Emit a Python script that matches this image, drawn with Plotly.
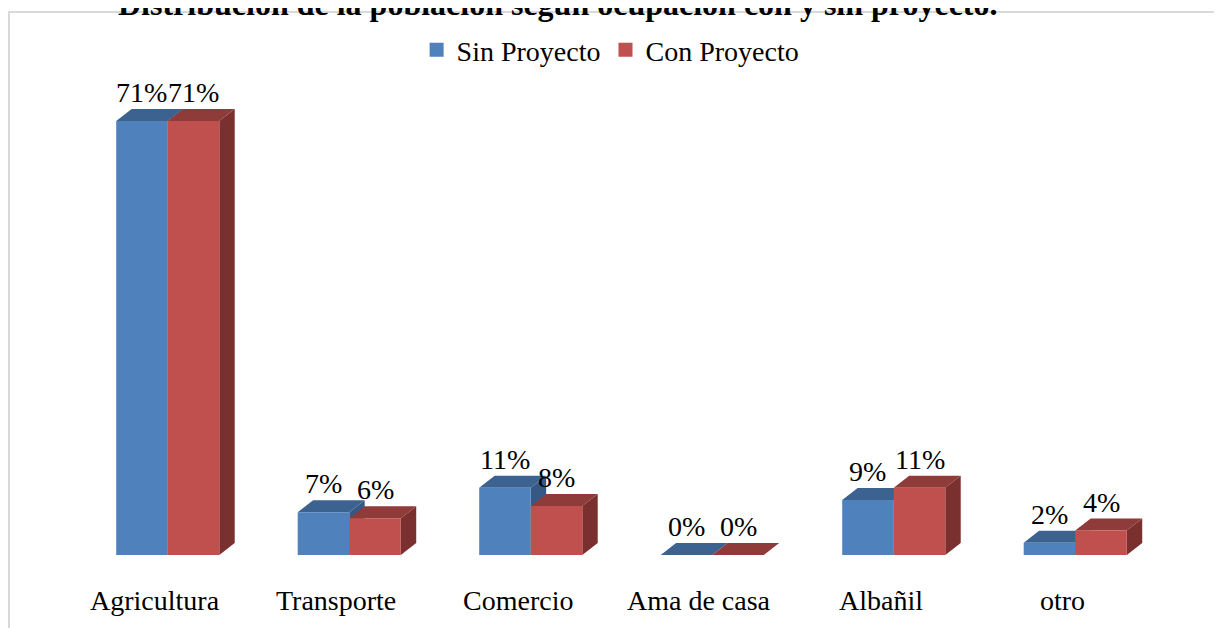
import plotly.graph_objects as go

categorias = ["Agricultura", "Transporte", "Comercio", "Ama de casa", "Albañil", "otro"]
sin_proyecto = [71, 7, 11, 0, 9, 2]
con_proyecto = [71, 6, 8, 0, 11, 4]
series = ["Sin Proyecto", "Con Proyecto"]

# look of the fake 3d bars
W = 0.284      # width of one bar (x units)
DX = 0.085     # depth offset to the right
DY = 1.96      # depth offset upward (y units)
FONT = "Liberation Serif"

colores = {
    "Sin Proyecto": dict(front="#4F81BD", top="#3C6390", side="#355884"),
    "Con Proyecto": dict(front="#C0504D", top="#8E3B39", side="#7A302E"),
}

fig = go.Figure()


def caras(valores, offset):
    front_x, front_y, top_x, top_y, side_x, side_y = [], [], [], [], [], []
    for i, v in enumerate(valores):
        x0 = i + offset
        x1 = x0 + W
        front_x += [x0, x1, x1, x0, x0, None]
        front_y += [0, 0, v, v, 0, None]
        top_x += [x0, x1, x1 + DX, x0 + DX, x0, None]
        top_y += [v, v, v + DY, v + DY, v, None]
        side_x += [x1, x1 + DX, x1 + DX, x1, x1, None]
        side_y += [0, DY, v + DY, v, 0, None]
    return (front_x, front_y), (top_x, top_y), (side_x, side_y)


for nombre, valores, offset in [(series[0], sin_proyecto, -W), (series[1], con_proyecto, 0)]:
    c = colores[nombre]
    front, top, side = caras(valores, offset)
    fig.add_trace(go.Scatter(x=side[0], y=side[1], fill="toself", fillcolor=c["side"],
                             mode="lines", line=dict(width=0), hoverinfo="skip",
                             showlegend=False))
    fig.add_trace(go.Scatter(x=top[0], y=top[1], fill="toself", fillcolor=c["top"],
                             mode="lines", line=dict(width=0), hoverinfo="skip",
                             showlegend=False))
    fig.add_trace(go.Scatter(x=front[0], y=front[1], fill="toself", fillcolor=c["front"],
                             mode="lines", line=dict(width=0), hoverinfo="skip",
                             showlegend=False))

# legend entries only (square icons)
for nombre in series:
    fig.add_trace(go.Scatter(x=[None], y=[None], mode="markers", name=nombre,
                             marker=dict(symbol="square", size=14,
                                         color=colores[nombre]["front"])))

# etiquetas de valores
for valores, offset in [(sin_proyecto, -W), (con_proyecto, 0)]:
    for i, v in enumerate(valores):
        fig.add_annotation(x=i + offset + W / 2, y=v + DY, text=f"{v}%",
                           showarrow=False, yanchor="bottom", yshift=-1,
                           font=dict(family=FONT, size=28, color="black"))

for i, cat in enumerate(categorias):
    fig.add_annotation(x=i - 0.072, y=0, yref="y", text=cat, showarrow=False,
                       yshift=-45, yanchor="middle",
                       font=dict(family=FONT, size=28, color="black"))

# titulo (cortado arriba como en la imagen original)
fig.add_annotation(xref="paper", yref="paper", x=(550 - 69) / 1089, y=1 + 76 / 475,
                   yanchor="middle", xanchor="center", showarrow=False,
                   text="<b>Distribución de la población según ocupación con y sin proyecto.</b>",
                   font=dict(family=FONT, size=32, color="black"))

# recuadro del grafico
fig.add_shape(type="rect", xref="paper", yref="paper",
              x0=(1 - 69) / 1089, x1=1.2, y0=-0.3, y1=1 + 68 / 475,
              line=dict(color="#D9D9D9", width=2), fillcolor="rgba(0,0,0,0)", layer="below")

fig.update_layout(
    width=1214, height=620,
    margin=dict(l=69, r=56, t=72, b=73),
    font=dict(family=FONT, size=28, color="black"),
    paper_bgcolor="white", plot_bgcolor="white",
    legend=dict(orientation="h", x=0.49, xanchor="center", y=1 + 30 / 475, yanchor="middle",
                font=dict(family=FONT, size=28, color="black"), itemwidth=30),
    xaxis=dict(range=[-0.5, 5.5], showgrid=False, zeroline=False, showticklabels=False,
               fixedrange=True),
    yaxis=dict(range=[0, 475 / 6.113], showgrid=False, zeroline=False, showticklabels=False,
               fixedrange=True),
)

fig.write_html("out.html")
